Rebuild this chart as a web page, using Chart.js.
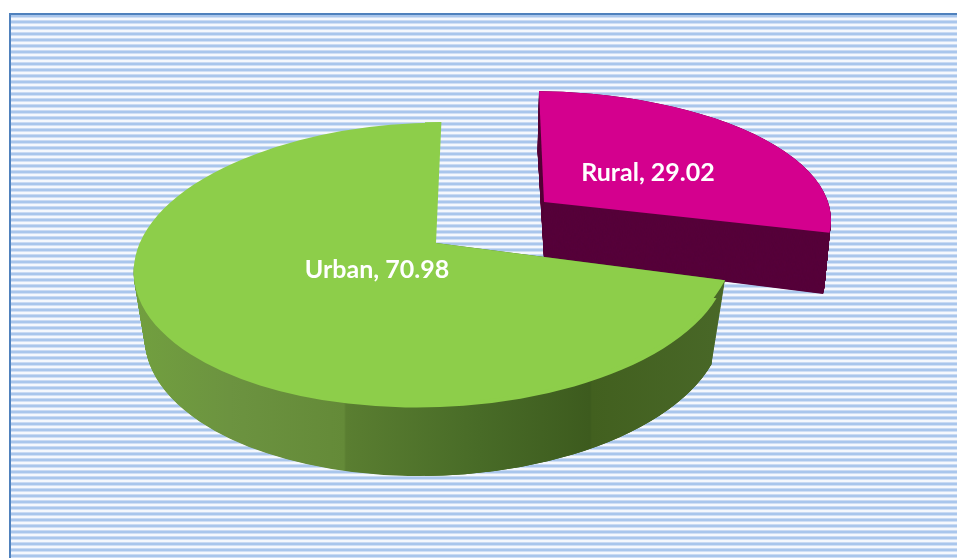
<!DOCTYPE html>
<html>
<head>
<meta charset="utf-8">
<style>
html,body{margin:0;padding:0;background:#fff;width:957px;height:558px;overflow:hidden}
#frame{position:absolute;left:9px;top:13px;width:948px;height:545px;box-sizing:border-box;border-left:2px solid #4f81bd;border-top:2px solid #4f81bd;
background:repeating-linear-gradient(180deg,#a9c6ec 0,#a9c6ec 2px,#d0dff5 2px,#d0dff5 3px,#f5f8fd 3px,#f5f8fd 5px,#c9daf3 5px,#c9daf3 6px)}
canvas{position:absolute;left:0;top:0}
</style>
<script src="https://cdn.jsdelivr.net/npm/chart.js@4/dist/chart.umd.min.js"></script>
</head>
<body>
<div id="frame"></div>
<canvas id="c" width="957" height="558"></canvas>
<script>
const categories = ['Rural', 'Urban'];
const values = [29.02, 70.98];
const topColors = ['#d4008e', '#8dce4a'];
const ruralWallColor = '#56003a';

// Projection of the flat pie into the tilted view
const lerp = (a, b, t) => a + (b - a) * t;
const mixE = (p, q, t) => ({cx: lerp(p.cx, q.cx, t), cy: lerp(p.cy, q.cy, t), rx: lerp(p.rx, q.rx, t), ry: lerp(p.ry, q.ry, t), s: lerp(p.s, q.s, t)});
const mixP = (p, q, t) => [lerp(p[0], q[0], t), lerp(p[1], q[1], t)];

const urbanRim   = {cx: 431, cy: 265, rx: 297, ry: 142.5, s: -0.1};
const urbanBase  = {cx: 434, cy: 330, rx: 289, ry: 146, s: -0.1};
const urbanNotchUp  = {cx: 436, cy: 243, rx: 280, ry: 121, s: -0.085};
const urbanNotchLow = {cx: 436, cy: 243, rx: 300, ry: 160, s: -0.073};

const ruralRim  = {cx: 528, cy: 220, rx: 303, ry: 129, s: 0};
const ruralBase = {cx: 522, cy: 280, rx: 303, ry: 129, s: 0};
const ruralTopWedge  = {apex: [544, 202], a: [539, 91],  b: [831, 233]};
const ruralBaseWedge = {apex: [544, 259], a: [537.5, 151], b: [823, 294]};

function drawArc(ctx, arc, e, fill, clip) {
  const R = arc.outerRadius;
  const saved = arc.options;
  ctx.save();
  if (clip) { ctx.beginPath(); clip(ctx); ctx.clip(); }
  ctx.transform(e.rx / R, 0, e.s * e.ry / R, e.ry / R, e.cx, e.cy);
  ctx.translate(-arc.x, -arc.y);
  arc.options = Object.assign({}, saved, {backgroundColor: fill, borderWidth: 0});
  arc.draw(ctx);
  arc.options = saved;
  ctx.restore();
}
const rectClip = (x, y, w, h) => c => c.rect(x, y, w, h);
function wedgeClip(w) {
  const k = 3, A = w.apex;
  const ax = A[0] + k * (w.a[0] - A[0]), ay = A[1] + k * (w.a[1] - A[1]);
  const bx = A[0] + k * (w.b[0] - A[0]), by = A[1] + k * (w.b[1] - A[1]);
  return c => { c.moveTo(A[0], A[1]); c.lineTo(ax, ay); c.lineTo(ax + bx - A[0], ay + by - A[1]); c.lineTo(bx, by); c.closePath(); };
}

const pie3d = {
  id: 'pie3d',
  beforeDatasetsDraw(chart) {
    const ctx = chart.ctx;
    const [rural, urban] = chart.getDatasetMeta(0).data;
    const W = chart.width, H = chart.height;
    const STEPS = 130;

    // Rural: exploded slice, wall then top
    for (let i = STEPS; i >= 0; i--) {
      const t = i / STEPS;
      const w = {apex: mixP(ruralTopWedge.apex, ruralBaseWedge.apex, t), a: mixP(ruralTopWedge.a, ruralBaseWedge.a, t), b: mixP(ruralTopWedge.b, ruralBaseWedge.b, t)};
      drawArc(ctx, rural, mixE(ruralRim, ruralBase, t), ruralWallColor, wedgeClip(w));
    }
    drawArc(ctx, rural, ruralRim, topColors[0], wedgeClip(ruralTopWedge));

    // Urban: wall built off screen so that its shading runs across the picture
    const off = document.createElement('canvas');
    off.width = W; off.height = H;
    const o = off.getContext('2d');
    for (let i = STEPS; i >= 0; i--) {
      const t = i / STEPS;
      const e1 = mixE(urbanRim, urbanBase, t);
      const e2 = mixE(urbanNotchLow, urbanBase, t);
      drawArc(o, urban, e1, '#000', rectClip(0, e1.cy, W, H));
      drawArc(o, urban, e2, '#000', rectClip(425, e2.cy, W, H));
    }
    const g = o.createLinearGradient(130, 0, 730, 0);
    const stop = (x, col) => g.addColorStop((x - 130) / 600, col);
    stop(130, '#72a03f'); stop(230, '#6c9340'); stop(344, '#648a38');
    stop(346, '#5a7e31'); stop(480, '#486b27'); stop(590, '#3d5b1e');
    stop(592, '#42601f'); stop(730, '#496828');
    o.globalCompositeOperation = 'source-in';
    o.fillStyle = g;
    o.fillRect(0, 0, W, H);
    ctx.drawImage(off, 0, 0);

    // Urban top face
    drawArc(ctx, urban, urbanRim, topColors[1]);
    drawArc(ctx, urban, urbanNotchUp, topColors[1], rectClip(425, 0, W, urbanNotchUp.cy));
    drawArc(ctx, urban, urbanNotchLow, topColors[1], rectClip(425, urbanNotchLow.cy, W, H));

    // Data labels
    ctx.save();
    ctx.font = 'bold 25px Lato';
    ctx.fillStyle = '#ffffff';
    ctx.textAlign = 'center';
    ctx.textBaseline = 'middle';
    const labelAt = [[648, 173], [377, 270]];
    categories.forEach((c, i) => ctx.fillText(c + ', ' + values[i], labelAt[i][0], labelAt[i][1]));
    ctx.restore();
    return false;
  }
};

new Chart(document.getElementById('c'), {
  type: 'pie',
  data: {labels: categories, datasets: [{data: values, backgroundColor: topColors, borderWidth: 0}]},
  options: {
    responsive: false,
    animation: false,
    rotation: -1,
    plugins: {legend: {display: false}, tooltip: {enabled: false}}
  },
  plugins: [pie3d]
});
</script>
</body>
</html>
